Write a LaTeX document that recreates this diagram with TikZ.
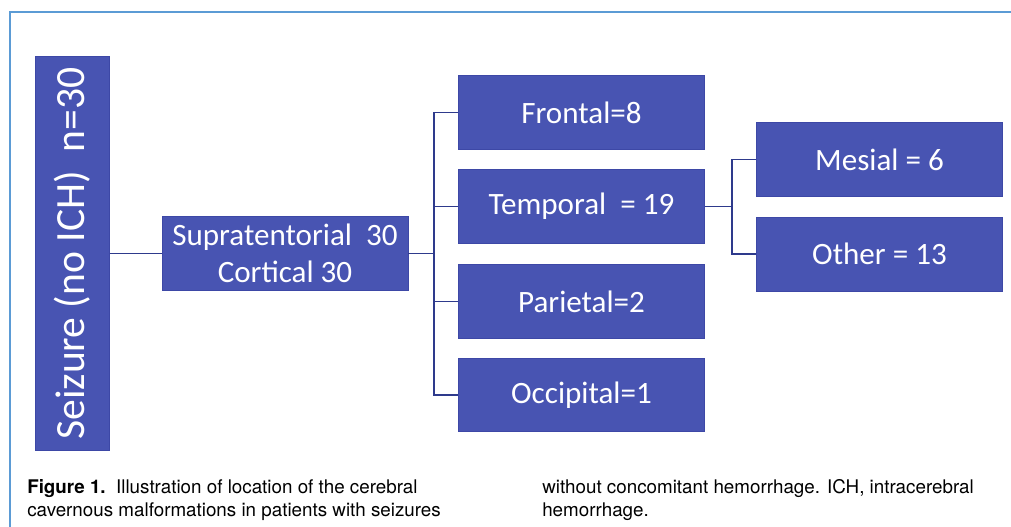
\documentclass[tikz,border=0pt]{standalone}
\usepackage{fontspec}
\setmainfont{Carlito}
\newfontfamily\capfont{TeX Gyre Heros}
\usepackage{tikz}

\definecolor{boxblue}{HTML}{4854B2}
\definecolor{boxedge}{HTML}{3D48A6}
\definecolor{linkblue}{HTML}{2E3A8C}
\definecolor{framebl}{HTML}{5B9BD5}

\tikzset{
  box/.style={draw=boxedge, line width=0.6pt, fill=boxblue, text=white,
    minimum width=185pt, minimum height=55pt, inner sep=0pt,
    font=\fontsize{23.3}{27.6}\selectfont},
  link/.style={draw=linkblue, line width=1.3pt},
  captext/.style={anchor=north west, inner sep=0pt, align=left,
    font=\capfont\fontsize{14.1}{17.4}\selectfont}
}

\begin{document}
\begin{tikzpicture}[x=0.75pt, y=-0.75pt]

\useasboundingbox (0,0) rectangle (1011,527);
\draw[framebl, line width=1.7pt] (10,527) -- (10,12) -- (1011,12);

\node[box, minimum width=296pt, minimum height=55pt, rotate=90,
  font=\fontsize{31.2}{36}\selectfont] (seizure) at (72.5,253.5) {Seizure (no ICH)\ \ n=30};
\node[box, minimum width=184.5pt, minimum height=56pt, align=center] (supra) at (285,253.5)
  {Supratentorial\ \ 30\\Cortical 30};

\node[box] (frontal) at (581.5,112.5) {Frontal=8};
\node[box] (temporal) at (581.5,206.5) {Temporal\ \ = 19};
\node[box] (parietal) at (581.5,301.5) {Parietal=2};
\node[box] (occipital) at (581.5,395) {Occipital=1};

\node[box, minimum height=55.5pt] (mesial) at (879.5,159.5) {Mesial = 6};
\node[box, minimum height=55.5pt] (other) at (879.5,254) {Other = 13};

\coordinate (bus) at (434,253.5);
\coordinate (subbus) at (732,206.5);

\draw[link] (seizure) -- (supra);
\draw[link] (supra) -- (bus);
\draw[link] (frontal.west) -| (bus) |- (occipital.west);
\draw[link] (temporal.west) -- (temporal.west -| bus);
\draw[link] (parietal.west) -- (parietal.west -| bus);

\draw[link] (temporal) -- (subbus);
\draw[link] (mesial.west) -| (subbus) |- (other.west);

\node[captext] (capleft) at (27,479)
  {\textbf{Figure 1.}\ \ Illustration of location of the cerebral\\
   cavernous malformations in patients with seizures};
\node[captext] (capright) at (542,479)
  {without concomitant hemorrhage. ICH, intracerebral\\hemorrhage.};

\end{tikzpicture}
\end{document}
